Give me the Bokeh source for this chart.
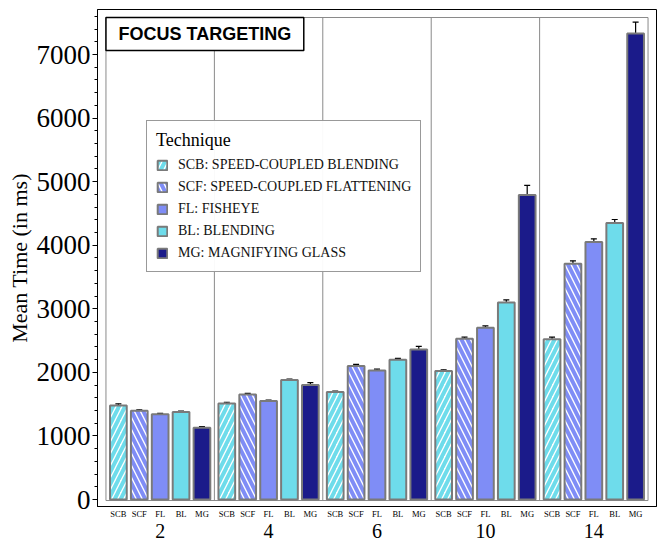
from bokeh.plotting import figure
from bokeh.models import (FactorRange, Range1d, ColumnDataSource, Whisker, Legend,
                          LegendItem, TeeHead, SingleIntervalTicker)
from bokeh.embed import file_html
from bokeh.resources import INLINE

groups = ["2", "4", "6", "10", "14"]
techniques = ["SCB", "SCF", "FL", "BL", "MG"]
legend_labels = [
    "SCB: SPEED-COUPLED BLENDING",
    "SCF: SPEED-COUPLED FLATTENING",
    "FL: FISHEYE",
    "BL: BLENDING",
    "MG: MAGNIFYING GLASS",
]
scb = [1480, 1510, 1690, 2020, 2520]
scf = [1395, 1650, 2100, 2530, 3710]
fl = [1340, 1550, 2030, 2700, 4050]
bl = [1375, 1880, 2200, 3100, 4350]
mg = [1130, 1800, 2360, 4790, 7330]
scb_err = [25, 20, 15, 20, 35]
scf_err = [15, 20, 25, 25, 45]
fl_err = [15, 15, 20, 30, 50]
bl_err = [15, 15, 20, 40, 55]
mg_err = [15, 40, 50, 150, 180]

means = [scb, scf, fl, bl, mg]
errs = [scb_err, scf_err, fl_err, bl_err, mg_err]

CYAN = "#6EDCEB"
BLUE = "#7F8DF6"
NAVY = "#1B1B8A"
EDGE = "#7A7A7A"
PANEL = "#8a8a8a"
styles = [
    dict(fill_color="white", hatch_pattern="/", hatch_color=CYAN, hatch_weight=4, hatch_scale=12),
    dict(fill_color="white", hatch_pattern="\\", hatch_color=BLUE, hatch_weight=4, hatch_scale=12),
    dict(fill_color=BLUE),
    dict(fill_color=CYAN),
    dict(fill_color=NAVY),
]

SERIF = "Liberation Serif"

factors = [(g, t) for g in groups for t in techniques]
x_range = FactorRange(factors=factors, factor_padding=0, group_padding=0.19,
                      range_padding=0.5, range_padding_units="absolute")

p = figure(width=657, height=540, x_range=x_range, y_range=Range1d(-110, 7708),
           output_backend="svg", toolbar_location=None,
           min_border_top=9, min_border_right=1, min_border_left=97, min_border_bottom=34)
p.xgrid.grid_line_color = None
p.ygrid.grid_line_color = None
p.outline_line_color = "black"
p.outline_line_width = 1
p.background_fill_color = "white"

# inner panel frame and group separators
HALF_GAP = 0.595
PANEL_BOTTOM, PANEL_TOP = -16, 7582
p.quad(left=[(groups[0], techniques[0], -HALF_GAP)], right=[(groups[-1], techniques[-1], HALF_GAP)],
       bottom=[PANEL_BOTTOM], top=[PANEL_TOP], fill_color=None, line_color=PANEL, line_width=1)
p.segment(x0=[(g, techniques[-1], HALF_GAP) for g in groups[:-1]], y0=PANEL_BOTTOM,
          x1=[(g, techniques[-1], HALF_GAP) for g in groups[:-1]], y1=PANEL_TOP,
          line_color=PANEL, line_width=1)

# title box in the top-left corner of the panel
TITLE_W = 9.47   # in category units
TITLE_H = 519    # in axis units
p.quad(left=[(groups[0], techniques[0], -HALF_GAP)], right=[(groups[0], techniques[0], -HALF_GAP + TITLE_W)],
       bottom=[PANEL_TOP - TITLE_H], top=[PANEL_TOP], fill_color="white", line_color="black", line_width=1.5)
p.text(x=[(groups[0], techniques[0], -HALF_GAP + TITLE_W / 2)], y=[PANEL_TOP - TITLE_H / 2],
       text=["FOCUS TARGETING"], text_font={"value": "Liberation Sans"}, text_font_style="bold",
       text_font_size="18px", text_color="black", text_align="center", text_baseline="middle")

renderers = []
wx, wu, wl = [], [], []
for t, vals, er, st in zip(techniques, means, errs, styles):
    xs = [(g, t) for g in groups]
    src = ColumnDataSource(dict(x=xs, top=vals))
    r = p.vbar(x="x", top="top", bottom=0, width=0.8, source=src,
               line_color=EDGE, line_width=2, **st)
    renderers.append(r)
    for xx, v, e in zip(xs, vals, er):
        wx.append(xx)
        wu.append(v + e)
        wl.append(v - e)

wsrc = ColumnDataSource(dict(x=wx, upper=wu, lower=wl))
p.add_layout(Whisker(base="x", upper="upper", lower="lower", source=wsrc,
                     line_color="black", line_width=1.2,
                     upper_head=TeeHead(size=6, line_color="black", line_width=1.2),
                     lower_head=TeeHead(size=6, line_color="black", line_width=1.2)))

legend = Legend(items=[LegendItem(label=l, renderers=[r]) for l, r in zip(legend_labels, renderers)],
                title="Technique", location=(49, 234))
legend.title_text_font = SERIF
legend.title_text_font_size = "18px"
legend.title_text_font_style = "normal"
legend.title_text_color = "black"
legend.title_standoff = 5
legend.label_text_font = SERIF
legend.label_text_font_size = "14px"
legend.label_text_color = "#111111"
legend.glyph_width = 12
legend.glyph_height = 12
legend.label_height = 18
legend.spacing = 4
legend.padding = 9
legend.label_standoff = 10
legend.margin = 0
legend.border_line_color = "#333333"
legend.border_line_width = 1
p.add_layout(legend)

# y axis
p.yaxis.ticker = SingleIntervalTicker(interval=1000, num_minor_ticks=5)
p.yaxis.axis_label = "Mean Time (in ms)"
p.yaxis.axis_label_text_font = SERIF
p.yaxis.axis_label_text_font_size = "22px"
p.yaxis.axis_label_text_font_style = "normal"
p.yaxis.axis_label_text_color = "black"
p.yaxis.axis_label_standoff = 2
p.yaxis.major_label_text_font = SERIF
p.yaxis.major_label_text_font_size = "27px"
p.yaxis.major_label_text_color = "black"
p.yaxis.major_tick_in = 0
p.yaxis.major_tick_out = 5
p.yaxis.minor_tick_in = 0
p.yaxis.minor_tick_out = 3
p.yaxis.major_label_standoff = 2
p.yaxis.axis_line_color = "black"

# x axis
p.xaxis.major_tick_line_color = None
p.xaxis.minor_tick_line_color = None
p.xaxis.major_tick_out = 0
p.xaxis.major_tick_in = 0
p.xaxis.major_label_text_font = SERIF
p.xaxis.major_label_text_font_size = "8.5px"
p.xaxis.major_label_text_color = "black"
p.xaxis.major_label_standoff = 2
p.xaxis.group_text_font = SERIF
p.xaxis.group_text_font_size = "20px"
p.xaxis.group_text_font_style = "normal"
p.xaxis.group_text_color = "black"
p.xaxis.separator_line_color = None
p.xaxis.axis_line_color = "black"

open("out.html", "w").write(file_html(p, INLINE))
